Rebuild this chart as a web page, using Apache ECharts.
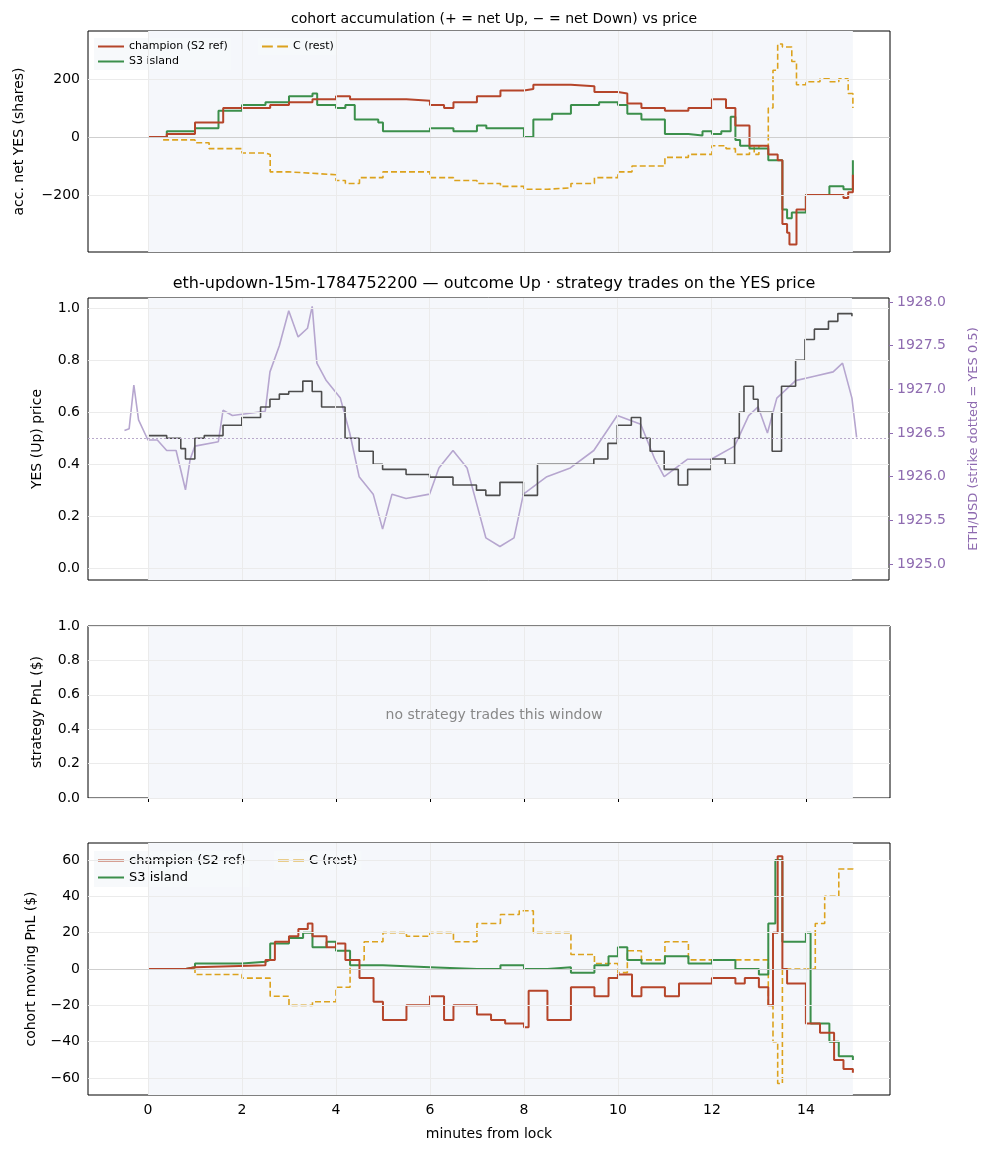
<!DOCTYPE html>
<html>
<head>
<meta charset="utf-8">
<script src="https://cdn.jsdelivr.net/npm/echarts@6/dist/echarts.min.js"></script>
<style>html,body{margin:0;padding:0;background:#fff}#chart{width:988px;height:1156px}</style>
</head>
<body>
<div id="chart"></div>
<script>
// times in minutes from lock
const accChampion = [[0,0],[0.4,10],[1,50],[1.6,100],[2.6,110],[3,120],[3.5,130],[4,140],[4.3,130],[5.5,125],[6,110],[6.3,100],[6.5,120],[7,140],[7.5,160],[8,165],[8.2,180],[9,175],[9.5,155],[10,150],[10.2,115],[10.5,100],[11,90],[11.5,100],[12,130],[12.3,100],[12.5,40],[12.8,-30],[13.2,-60],[13.4,-80],[13.5,-300],[13.6,-330],[13.65,-370],[13.8,-250],[14,-200],[14.5,-200],[14.8,-210],[14.9,-190],[15,-130]];
const accS3 = [[0,0],[0.4,20],[1,30],[1.5,90],[2,110],[2.5,120],[3,140],[3.5,150],[3.6,110],[4,100],[4.2,110],[4.4,60],[4.9,50],[5,20],[6,30],[6.5,20],[7,40],[7.2,30],[8,0],[8.2,60],[8.6,80],[9,110],[9.6,120],[10,110],[10.2,80],[10.5,60],[11,10],[11.5,5],[11.8,20],[12,10],[12.2,20],[12.4,70],[12.5,-10],[12.6,-30],[12.8,-40],[13.2,-80],[13.5,-250],[13.6,-280],[13.7,-260],[14,-200],[14.5,-170],[14.8,-180],[15,-80]];
const accRest = [[0,0],[0.3,-10],[1,-20],[1.3,-40],[2,-55],[2.5,-60],[2.6,-120],[3,-125],[3.5,-130],[4,-150],[4.2,-160],[4.5,-140],[5,-120],[6,-140],[6.5,-150],[7,-160],[7.5,-170],[8,-180],[8.5,-175],[9,-160],[9.5,-140],[10,-120],[10.3,-100],[11,-70],[11.5,-60],[12,-30],[12.3,-40],[12.5,-60],[12.8,-30],[12.9,-60],[13,-30],[13.2,100],[13.3,230],[13.4,320],[13.5,310],[13.7,260],[13.8,180],[14,190],[14.3,200],[14.5,190],[14.7,200],[14.9,150],[15,100]];

const yesPrice = [[0,0.51],[0.4,0.5],[0.7,0.46],[0.8,0.42],[1,0.5],[1.2,0.51],[1.6,0.55],[2,0.58],[2.4,0.62],[2.6,0.65],[2.8,0.67],[3,0.68],[3.3,0.72],[3.5,0.68],[3.7,0.62],[4,0.62],[4.2,0.5],[4.5,0.45],[4.8,0.4],[5,0.38],[5.5,0.36],[6,0.35],[6.5,0.32],[7,0.3],[7.2,0.28],[7.5,0.33],[8,0.28],[8.3,0.4],[9,0.4],[9.5,0.42],[9.8,0.48],[10,0.55],[10.3,0.58],[10.5,0.5],[10.7,0.45],[11,0.38],[11.3,0.32],[11.5,0.38],[12,0.42],[12.3,0.4],[12.5,0.5],[12.6,0.6],[12.7,0.7],[12.9,0.65],[13,0.6],[13.3,0.45],[13.5,0.7],[13.8,0.8],[14,0.88],[14.2,0.92],[14.5,0.95],[14.7,0.98],[15,0.97]];
const ethUsd = [[-0.5,1926.53],[-0.4,1926.55],[-0.3,1927.05],[-0.2,1926.65],[0,1926.42],[0.2,1926.42],[0.4,1926.3],[0.6,1926.3],[0.8,1925.85],[0.9,1926.2],[1,1926.35],[1.5,1926.4],[1.6,1926.76],[1.8,1926.7],[2.5,1926.75],[2.6,1927.2],[2.8,1927.5],[3,1927.9],[3.2,1927.6],[3.4,1927.7],[3.5,1927.95],[3.6,1927.3],[3.8,1927.1],[4.1,1926.9],[4.3,1926.5],[4.5,1926.0],[4.8,1925.8],[5,1925.4],[5.2,1925.8],[5.5,1925.75],[6,1925.8],[6.2,1926.1],[6.5,1926.3],[6.8,1926.1],[7,1925.7],[7.2,1925.3],[7.5,1925.2],[7.8,1925.3],[8,1925.8],[8.5,1926.0],[9,1926.1],[9.5,1926.3],[10,1926.7],[10.5,1926.6],[10.8,1926.2],[11,1926.0],[11.5,1926.2],[12,1926.2],[12.5,1926.35],[12.8,1926.7],[13,1926.8],[13.2,1926.5],[13.4,1926.9],[13.8,1927.1],[14.2,1927.15],[14.6,1927.2],[14.8,1927.3],[15,1926.9],[15.1,1926.45]];

const pnlChampion = [[0,0],[0.8,1],[1,2],[2.5,5],[2.7,15],[3,18],[3.2,22],[3.4,25],[3.5,18],[3.8,12],[4,14],[4.2,5],[4.5,-5],[4.8,-18],[5,-28],[5.5,-20],[6,-15],[6.3,-28],[6.5,-20],[7,-25],[7.3,-28],[7.6,-30],[8,-32],[8.1,-12],[8.5,-28],[9,-10],[9.5,-15],[9.8,-5],[10,-3],[10.3,-15],[10.5,-10],[11,-15],[11.3,-8],[12,-5],[12.5,-8],[12.7,-5],[13,-10],[13.2,-20],[13.3,20],[13.4,62],[13.5,0],[13.6,-8],[14,-30],[14.3,-35],[14.6,-50],[14.8,-55],[15,-57]];
const pnlS3 = [[0,0],[0.8,1],[1,3],[2,4],[2.5,5],[2.6,14],[3,17],[3.3,20],[3.5,12],[3.8,15],[4,10],[4.3,2],[5,1],[6,0],[7,0],[7.5,2],[8,0],[8.5,1],[9,-2],[9.5,2],[9.8,7],[10,12],[10.2,5],[10.5,3],[11,7],[11.5,3],[12,5],[12.5,0],[13,-3],[13.2,25],[13.35,60],[13.5,15],[14,20],[14.1,-30],[14.5,-40],[14.7,-48],[15,-50]];
const pnlRest = [[0,0],[1,-3],[2,-5],[2.6,-15],[3,-20],[3.5,-18],[4,-10],[4.3,5],[4.6,15],[5,20],[5.5,18],[6,20],[6.5,15],[7,25],[7.5,30],[7.9,32],[8.2,20],[9,8],[9.5,3],[10,-2],[10.2,10],[10.5,5],[11,15],[11.5,5],[12,5],[13,5],[13.2,-20],[13.3,-40],[13.4,-63],[13.5,0],[14,0],[14.2,25],[14.4,40],[14.7,55],[15,56]];

const xTicks = [0,2,4,6,8,10,12,14];
const accTicks = [-200,0,200];
const yesTicks = [0,0.2,0.4,0.6,0.8,1.0];
const ethTicks = [1925,1925.5,1926,1926.5,1927,1927.5,1928];
const stratTicks = [0,0.2,0.4,0.6,0.8,1.0];
const pnlTicks = [-60,-40,-20,0,20,40,60];

const RED = '#b5452a', GREEN = '#3b8f4b', ORANGE = '#dca21d', GRID = '#ebebeb';
const FONT = 'DejaVu Sans';
const chart = echarts.init(document.getElementById('chart'));

const grids = [
  {left: 88, right: 98, top: 31, height: 221},
  {left: 88, right: 98, top: 298, height: 282},
  {left: 88, right: 98, top: 626, height: 172},
  {left: 88, right: 98, top: 843, height: 252}
].map(g => Object.assign(g, {show: true, borderColor: '#000', borderWidth: 1, backgroundColor: '#fff'}));

const xAxes = [0,1,2,3].map(i => ({
  type: 'value', gridIndex: i, min: -1.277, max: 15.79,
  axisLine: {show: false}, splitLine: {show: false},
  axisTick: {show: true, customValues: xTicks, length: 4, lineStyle: {color: '#000'}},
  axisLabel: {show: i === 3, customValues: xTicks, color: '#000', fontSize: 14, fontFamily: FONT, margin: 8},
  name: i === 3 ? 'minutes from lock' : '', nameLocation: 'middle', nameGap: 32,
  nameTextStyle: {fontSize: 14, fontFamily: FONT, color: '#000'}
}));

function yAx(grid, min, max, ticks, name, fmt, extra) {
  return Object.assign({
    type: 'value', gridIndex: grid, min: min, max: max,
    axisLine: {show: false}, splitLine: {show: false},
    axisTick: {show: true, customValues: ticks, length: 4, lineStyle: {color: '#000'}},
    axisLabel: {customValues: ticks, color: '#000', fontSize: 14, fontFamily: FONT, formatter: fmt},
    name: name, nameLocation: 'middle', nameGap: 56,
    nameTextStyle: {fontSize: 14, fontFamily: FONT, color: '#000'}
  }, extra || {});
}

const yAxes = [
  yAx(0, -396, 365, accTicks, 'acc. net YES (shares)', v => v < 0 ? '\u2212' + (-v) : String(v), {nameGap: 62}),
  yAx(1, -0.046, 1.04, yesTicks, 'YES (Up) price', v => v.toFixed(1), {nameGap: 44}),
  yAx(1, 1924.817, 1928.046, ethTicks, 'ETH/USD (strike dotted = YES 0.5)', v => v.toFixed(1), {
    position: 'right', nameGap: 78,
    axisLabel: {customValues: ethTicks, color: '#8e6bb0', fontSize: 14, fontFamily: FONT, formatter: v => v.toFixed(1)},
    axisTick: {show: true, customValues: ethTicks, length: 4, lineStyle: {color: '#8e6bb0'}},
    nameTextStyle: {fontSize: 13, fontFamily: FONT, color: '#8e6bb0'}
  }),
  yAx(2, 0, 1, stratTicks, 'strategy PnL ($)', v => v.toFixed(1), {nameGap: 44}),
  yAx(3, -69.3, 69.3, pnlTicks, 'cohort moving PnL ($)', v => v < 0 ? '\u2212' + (-v) : String(v), {nameGap: 50})
];

// helper series per grid: shaded 0-15 window, grid lines, zero line
function backdrop(xi, yi, hTicks, zero) {
  const lines = xTicks.map(t => ({xAxis: t, lineStyle: {color: GRID, type: 'solid', width: 1}}))
    .concat(hTicks.map(v => ({yAxis: v, lineStyle: {color: GRID, type: 'solid', width: 1}})));
  if (zero !== null) lines.push({yAxis: zero.v, lineStyle: zero.style});
  return {
    type: 'line', xAxisIndex: xi, yAxisIndex: yi, data: [], silent: true, z: 1,
    markArea: {silent: true, itemStyle: {color: '#f5f7fb'}, data: [[{xAxis: 0}, {xAxis: 15}]]},
    markLine: {silent: true, symbol: 'none', label: {show: false}, data: lines}
  };
}

function stepLine(name, data, xi, yi, color, dashed, width) {
  return {
    name: name, type: 'line', step: 'end', xAxisIndex: xi, yAxisIndex: yi, data: data,
    showSymbol: false, z: 3,
    lineStyle: {color: color, width: width || 2, type: dashed ? [6, 3] : 'solid'},
    itemStyle: {color: color}
  };
}

const series = [
  backdrop(0, 0, accTicks, {v: 0, style: {color: '#cfcfcf', type: 'solid', width: 1}}),
  stepLine('C (rest)', accRest, 0, 0, ORANGE, true, 1.6),
  stepLine('S3 island', accS3, 0, 0, GREEN, false),
  stepLine('champion (S2 ref)', accChampion, 0, 0, RED, false),

  backdrop(1, 1, yesTicks, {v: 0.5, style: {color: '#b9aacb', type: [2, 2], width: 1}}),
  {type: 'line', xAxisIndex: 1, yAxisIndex: 2, data: ethUsd, showSymbol: false, z: 2,
   lineStyle: {color: '#b6a6cf', width: 1.6}, itemStyle: {color: '#b6a6cf'}},
  stepLine('YES price', yesPrice, 1, 1, '#4d4d4d', false, 1.6),

  backdrop(2, 3, stratTicks, null),

  backdrop(3, 4, pnlTicks, {v: 0, style: {color: '#cfcfcf', type: 'solid', width: 1}}),
  stepLine('C (rest)', pnlRest, 3, 4, ORANGE, true, 1.6),
  stepLine('S3 island', pnlS3, 3, 4, GREEN, false),
  stepLine('champion (S2 ref)', pnlChampion, 3, 4, RED, false)
];

function legendPair(top, size) {
  const base = {itemWidth: 26, itemHeight: 10, icon: 'path://M0,4L26,4L26,6L0,6Z', selectedMode: false,
    textStyle: {fontSize: size, fontFamily: FONT, color: '#000'}, itemGap: 4,
    backgroundColor: 'rgba(246,248,251,0.9)', padding: [3, 4]};
  return [
    Object.assign({}, base, {left: 94, top: top, orient: 'vertical', data: ['champion (S2 ref)', 'S3 island']}),
    Object.assign({}, base, {left: size < 12 ? 258 : 274, top: top, orient: 'vertical',
      data: [{name: 'C (rest)', icon: 'path://M0,4L10,4L10,6L0,6ZM14,4L24,4L24,6L14,6Z'}]})
  ];
}

chart.setOption({
  animation: false,
  textStyle: {fontFamily: FONT},
  title: [
    {text: 'cohort accumulation (+ = net Up, \u2212 = net Down) vs price', left: 489, top: 7, textAlign: 'center',
     textStyle: {fontSize: 14, fontWeight: 'normal', color: '#000', fontFamily: FONT}},
    {text: 'eth-updown-15m-1784752200 \u2014 outcome Up \u00b7 strategy trades on the YES price', left: 489, top: 271, textAlign: 'center',
     textStyle: {fontSize: 16, fontWeight: 'normal', color: '#000', fontFamily: FONT}},
    {text: 'no strategy trades this window', left: 489, top: 703, textAlign: 'center',
     textStyle: {fontSize: 14, fontWeight: 'normal', color: '#888', fontFamily: FONT}}
  ],
  legend: legendPair(38, 11).concat(legendPair(851, 13)),
  grid: grids,
  xAxis: xAxes,
  yAxis: yAxes,
  series: series
});
</script>
</body>
</html>
